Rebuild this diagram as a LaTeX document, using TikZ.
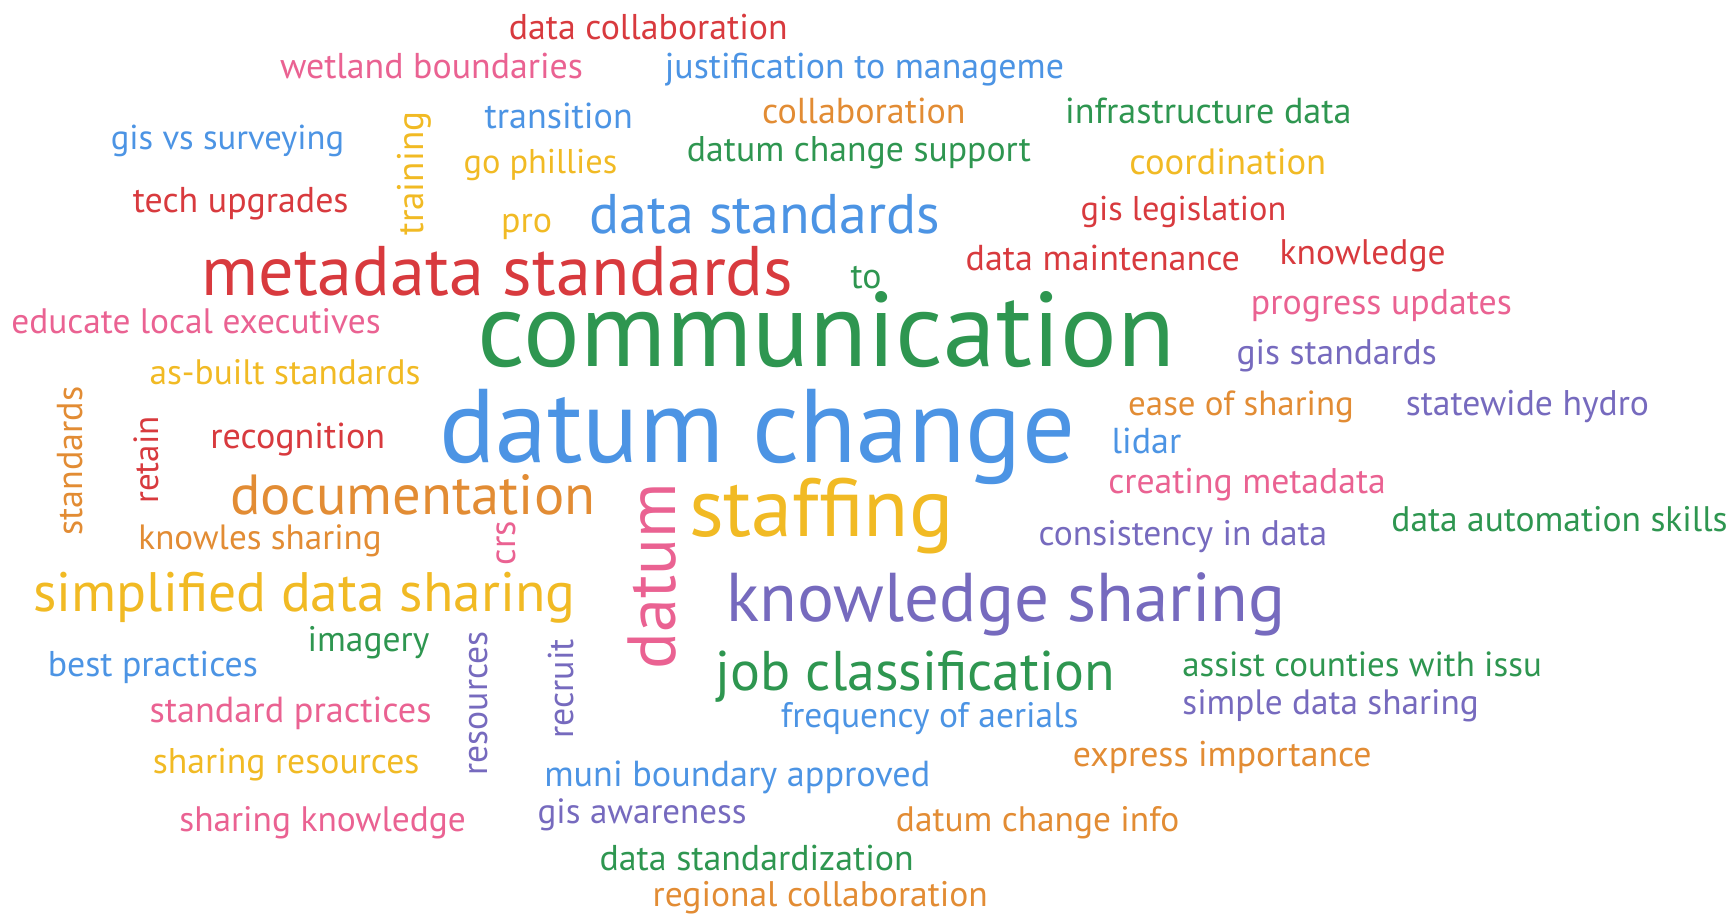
\documentclass[tikz,border=0pt]{standalone}
\usepackage{fontspec}
\setmainfont{PT Sans}
\usepackage{graphicx}

\definecolor{wcred}{RGB}{216,58,62}
\definecolor{wcpink}{RGB}{234,98,146}
\definecolor{wcblue}{RGB}{76,148,228}
\definecolor{wcgreen}{RGB}{46,150,80}
\definecolor{wcorange}{RGB}{226,140,52}
\definecolor{wcyellow}{RGB}{241,186,36}
\definecolor{wcpurple}{RGB}{118,106,190}
\def\upangle{90}

\begin{document}
\begin{tikzpicture}[x=1pt,y=-1pt]
		\tikzstyle{word}=[inner sep=0pt,anchor=base west]
		\tikzstyle{up word}=[inner sep=0pt,anchor=center,rotate=\upangle]
		\tikzstyle{red word}=[word,text=wcred]
		\tikzstyle{pink word}=[word,text=wcpink]
		\tikzstyle{blue word}=[word,text=wcblue]
		\tikzstyle{green word}=[word,text=wcgreen]
		\tikzstyle{orange word}=[word,text=wcorange]
		\tikzstyle{yellow word}=[word,text=wcyellow]
		\tikzstyle{purple word}=[word,text=wcpurple]

		\useasboundingbox (0,0) rectangle (1568,826);

			% Red words (left x / baseline / width)
		\foreach \name/\x/\y/\w/\txt in {1/460/36/252/data collaboration,2/120/192/195/tech upgrades,
			3/977/199/186/gis legislation,4/182/267/535/metadata standards,5/873/245/248/data maintenance,
			6/1157/239/150/knowledge,7/190/406/158/recognition}
		\node[red word] (R-\name) at (\x,\y) {\resizebox{\w pt}{!}{\txt}};
		\node[up word,text=wcred] (R-8) at (132,416) {\resizebox{79pt}{!}{retain}};

			% Pink words
		\foreach \name/\x/\y/\w/\txt in {1/253/71/274/wetland boundaries,2/10/302/334/educate local executives,
			3/1131/284/236/progress updates,4/1002/446/251/creating metadata,5/135/653/255/standard practices,
			6/162/752/259/sharing knowledge}
		\node[pink word] (P-\name) at (\x,\y) {\resizebox{\w pt}{!}{\txt}};
		\node[up word,text=wcpink] (P-7) at (590,521) {\resizebox{168pt}{!}{datum}};
		\node[up word,text=wcpink] (P-8) at (458,491) {\resizebox{40pt}{!}{crs}};

			% Blue words
		\foreach \name/\x/\y/\w/\txt in {1/601/71/361/justification to manageme,2/438/116/134/transition,
			3/100/135/211/gis vs surveying,4/533/211/317/data standards,5/397/418/575/datum change,
			6/1005/410/63/lidar,7/43/612/190/best practices,8/706/658/269/frequency of aerials,
			9/492/711/349/muni boundary approved}
		\node[blue word] (B-\name) at (\x,\y) {\resizebox{\w pt}{!}{\txt}};

			% Green words
		\foreach \name/\x/\y/\w/\txt in {1/963/112/259/infrastructure data,2/621/146/311/datum change support,
			3/769/261/28/to,4/432/331/630/communication,5/1258/481/304/data automation skills,
			6/278/589/110/imagery,7/647/624/361/job classification,8/1069/612/325/assist counties with issu,
			9/542/787/284/data standardization}
		\node[green word] (G-\name) at (\x,\y) {\resizebox{\w pt}{!}{\txt}};

			% Orange words
		\foreach \name/\x/\y/\w/\txt in {1/689/112/184/collaboration,2/1020/376/204/ease of sharing,
			3/208/465/330/documentation,4/125/497/220/knowles sharing,5/970/693/270/express importance,
			6/810/752/256/datum change info,7/590/820/303/regional collaboration}
		\node[orange word] (O-\name) at (\x,\y) {\resizebox{\w pt}{!}{\txt}};
		\node[up word,text=wcorange] (O-8) at (63,417) {\resizebox{135pt}{!}{standards}};

			% Yellow words
		\foreach \name/\x/\y/\w/\txt in {1/419/157/139/go phillies,2/1021/158/178/coordination,
			3/453/210/46/pro,4/135/348/245/as-built standards,5/623/485/239/staffing,
			6/30/553/490/simplified data sharing,7/138/699/241/sharing resources}
		\node[yellow word] (Y-\name) at (\x,\y) {\resizebox{\w pt}{!}{\txt}};
		\node[up word,text=wcyellow] (Y-8) at (375,157) {\resizebox{112pt}{!}{training}};

			% Purple words
		\foreach \name/\x/\y/\w/\txt in {1/1118/330/181/gis standards,2/1271/376/220/statewide hydro,
			3/939/493/261/consistency in data,4/657/562/505/knowledge sharing,5/1069/646/268/simple data sharing,
			6/486/745/189/gis awareness}
		\node[purple word] (V-\name) at (\x,\y) {\resizebox{\w pt}{!}{\txt}};
		\node[up word,text=wcpurple] (V-7) at (433,636) {\resizebox{130pt}{!}{resources}};
		\node[up word,text=wcpurple] (V-8) at (507,623) {\resizebox{90pt}{!}{recruit}};
		\end{tikzpicture}
\end{document}
